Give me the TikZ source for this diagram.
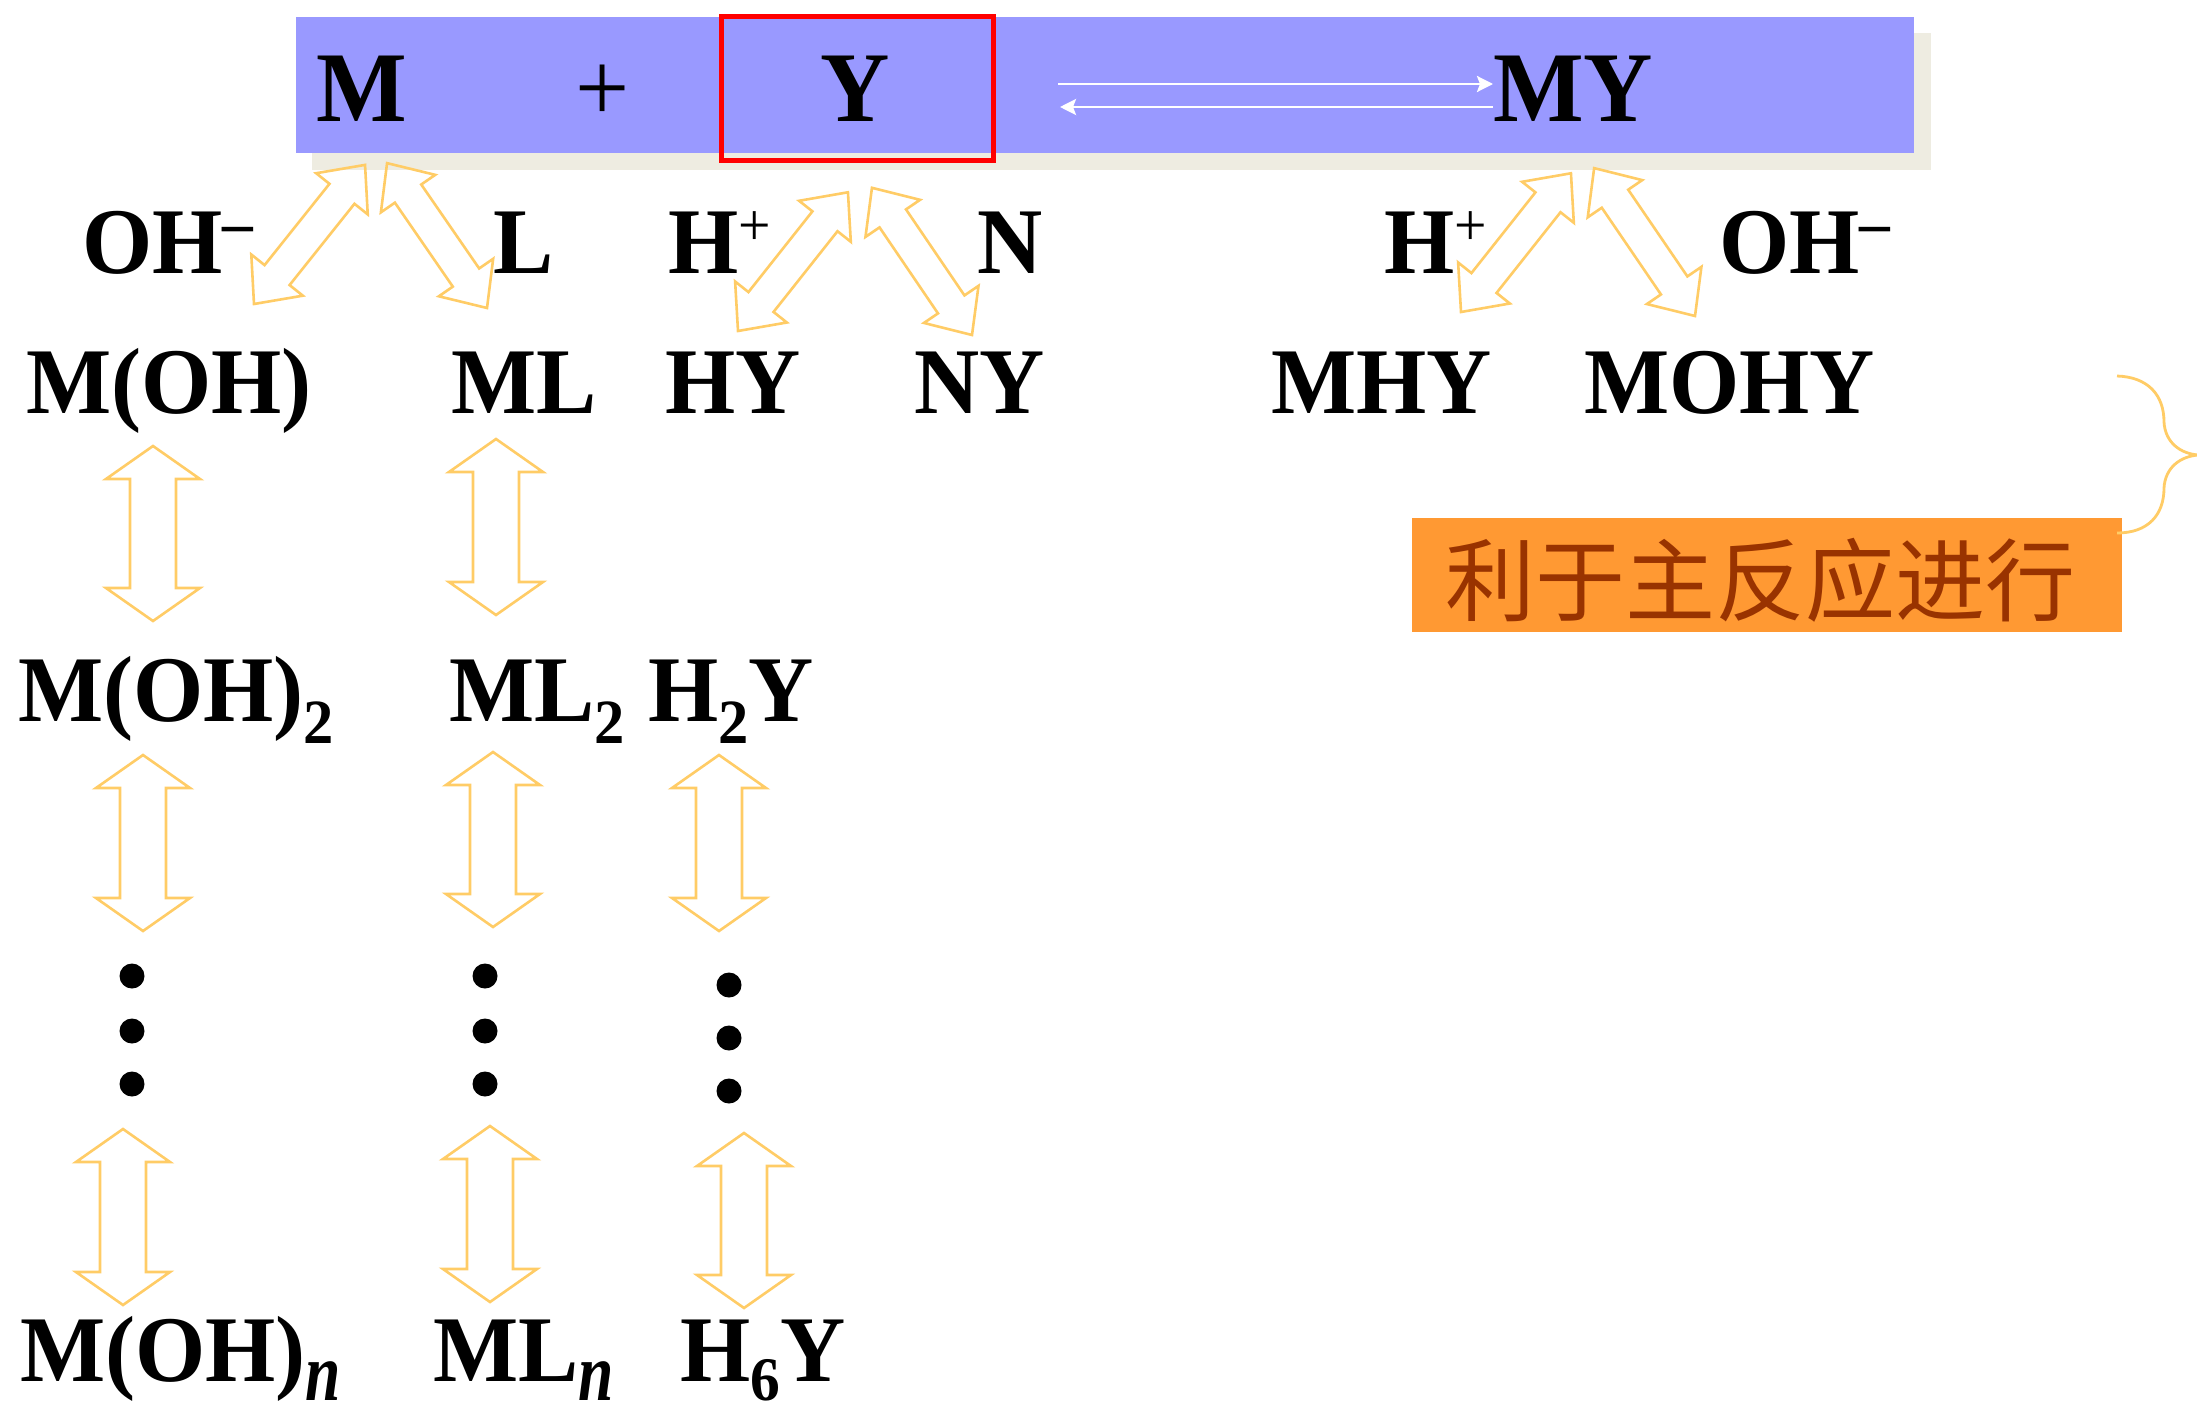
\documentclass[tikz,border=0pt]{standalone}
\usepackage{fontspec}
\setmainfont{Liberation Serif}[FakeStretch=0.96]
\newfontfamily\cjk{Noto Sans CJK SC}
\usetikzlibrary{arrows.meta}
\definecolor{bannerblue}{HTML}{9999FF}
\definecolor{shadowcol}{HTML}{EEECE1}
\definecolor{arrowcol}{HTML}{FFCC66}
\definecolor{boxorange}{HTML}{FF9933}
\definecolor{cjkred}{HTML}{993300}
\newcommand\bigfont{\fontsize{100}{110}\selectfont\bfseries}
\newcommand\chemfont{\fontsize{94}{104}\selectfont\bfseries}
\newcommand\spr[1]{\raisebox{28pt}{\fontsize{60}{60}\selectfont #1}}
\newcommand\sbs[1]{\raisebox{-22pt}{\fontsize{63}{63}\selectfont #1}}
\newcommand\sbsix[1]{\raisebox{-19pt}{\fontsize{62}{62}\selectfont #1}}
\newcommand\sbn{\raisebox{-19pt}{\scalebox{1}[1.25]{\fontsize{66}{66}\selectfont\bfseries\itshape n}}}
\newcommand\plusup{\spr{\mdseries +}}
\newcommand\minusup{\raisebox{29pt}{\fontsize{64}{64}\selectfont\bfseries –}}
\newcommand\dblarrow[7]{%
\begin{scope}[shift={(#1,#2)},rotate=#3]
\draw[yarrow] (0,0) -- (#5,#6) -- (#5,#7) -- ({#4-#5},#7) -- ({#4-#5},#6) -- (#4,0) -- ({#4-#5},-#6) -- ({#4-#5},-#7) -- (#5,-#7) -- (#5,-#6) -- cycle;
\end{scope}}
\newcommand\varrow[3]{\dblarrow{#1}{#2}{90}{#3}{33}{47}{23}}
\newcommand\darrow[4]{\dblarrow{#1}{#2}{#3}{#4}{37}{33}{16}}
\tikzset{
  chem/.style={anchor=base west, inner sep=0pt, font=\chemfont},
  bigchem/.style={anchor=base west, inner sep=0pt, font=\bigfont},
  yarrow/.style={draw=arrowcol, line width=2.6pt, line join=miter},
  eqarrow/.style={draw=white, line width=2.7pt, -{Stealth[length=16pt,width=16pt,inset=3pt]}},
  bracestyle/.style={draw=arrowcol, line width=2.8pt},
  dotstyle/.style={fill=black}
}
\begin{document}
\begin{tikzpicture}[x=1pt,y=-1pt]
\useasboundingbox (0,0) rectangle (2197,1405);
\fill[white] (0,0) rectangle (2197,1405);
% banner
\fill[shadowcol] (312,33) rectangle (1931,170);
\fill[bannerblue] (296,17) rectangle (1914,153);
\draw[red, line width=5pt] (721.5,16.5) rectangle (993.5,160.5);
\node[bigchem] (tM) at (316,121) {M};
\node[bigchem, font=\fontsize{100}{110}\selectfont\mdseries] (tPlus) at (575,121) {+};
\node[bigchem] (tY) at (820,121) {Y};
\node[bigchem] (tMY) at (1493,121) {MY};
\coordinate (eqA1) at (1058,84);
\coordinate (eqA2) at (1493,84);
\coordinate (eqB1) at (1493,107);
\coordinate (eqB2) at (1060,107);
\draw[eqarrow] (eqA1) -- (eqA2);
\draw[eqarrow] (eqB1) -- (eqB2);
% row 1
\node[chem] (ohL) at (82,273) {OH\minusup};
\node[chem] (lig) at (493,273) {L};
\node[chem] (hpL) at (668,273) {H\plusup};
\node[chem] (nN) at (977,273) {N};
\node[chem] (hpR) at (1384,273) {H\plusup};
\node[chem] (ohR) at (1719,273) {OH\minusup};
% row 2
\node[chem] (moh) at (26,413) {M(OH)};
\node[chem] (ml) at (451,413) {ML};
\node[chem] (hy) at (665,413) {HY};
\node[chem] (ny) at (914,413) {NY};
\node[chem] (mhy) at (1271,413) {MHY};
\node[chem] (mohy) at (1584,413) {MOHY};
% row 3
\node[chem] (moh2) at (18,721) {M(OH)\sbs{2}};
\node[chem] (ml2) at (449,721) {ML\sbs{2}};
\node[chem] (h2y) at (648,721) {H\sbs{2}Y};
% row 4
\node[chem] (mohn) at (20,1381) {M(OH)\sbn};
\node[chem] (mln) at (433,1381) {ML\sbn};
\node[chem] (h6y) at (680,1381) {H\sbsix{6}Y};
% dots
\foreach \y in {976,1031,1084} \fill[dotstyle] (132,\y) circle[radius=12.5];
\foreach \y in {976,1031,1084} \fill[dotstyle] (485,\y) circle[radius=12.5];
\foreach \y in {985,1038,1091} \fill[dotstyle] (729,\y) circle[radius=12.5];
% vertical double arrows
\varrow{153}{621}{175}
\varrow{496}{615}{176}
\varrow{143}{931}{176}
\varrow{493}{927}{175}
\varrow{719}{931}{176}
\varrow{123}{1305}{176}
\varrow{490}{1302}{176}
\varrow{744}{1308}{175}
% diagonal double arrows
\darrow{254}{304}{51.4}{178}
\darrow{487}{308}{124.6}{176}
\darrow{738}{331}{51.6}{177}
\darrow{972}{335}{124.2}{178}
\darrow{1461}{312}{51.6}{177}
\darrow{1695}{316}{124.3}{179}
% orange box
\fill[boxorange] (1412,518) rectangle (2122,632);
\node[anchor=base, inner sep=0pt, text=cjkred, font=\cjk\fontsize{90}{90}\selectfont] (cjk) at (1760,614) {利于主反应进行};
% brace
\draw[bracestyle] (2117,376) .. controls (2148,377) and (2164,395) .. (2164,422) .. controls (2165,442) and (2180,454) .. (2199,455) .. controls (2180,456) and (2165,468) .. (2164,488) .. controls (2164,515) and (2148,533) .. (2117,533);
\end{tikzpicture}
\end{document}
